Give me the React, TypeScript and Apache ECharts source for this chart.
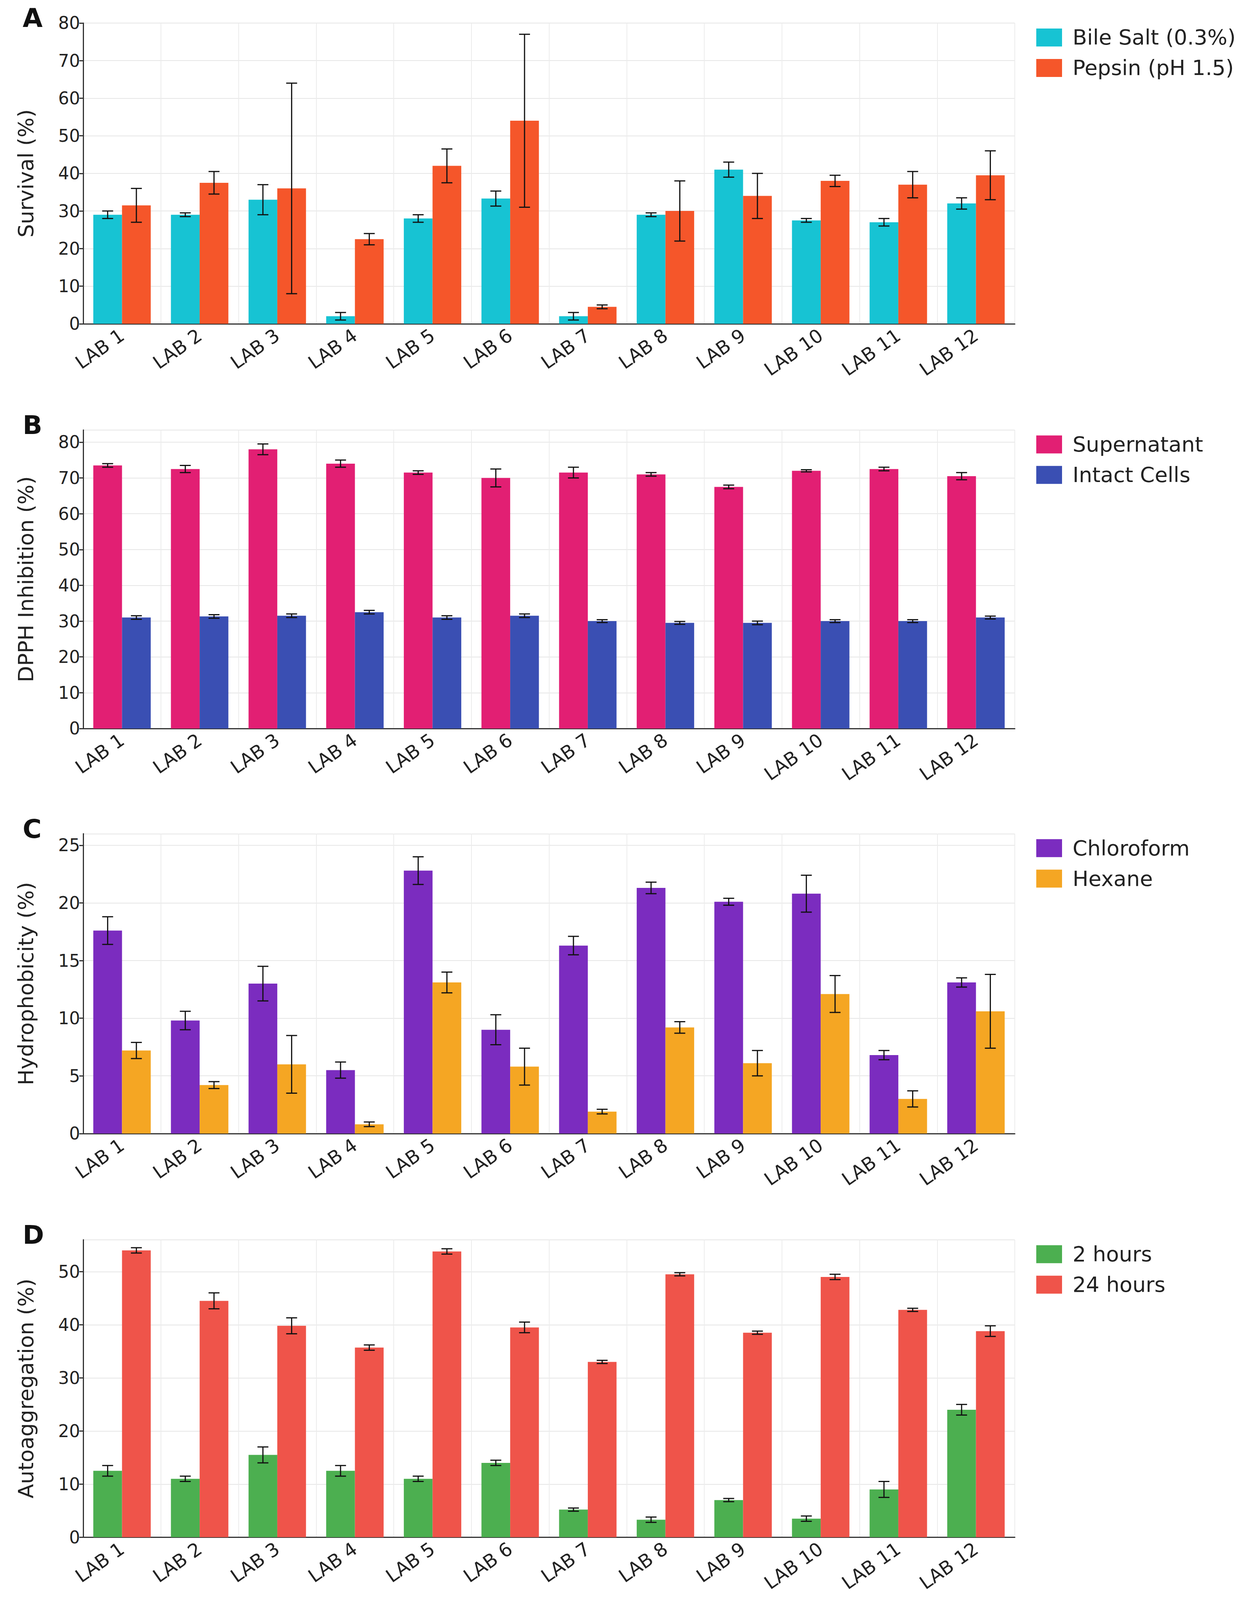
import React, { useEffect, useRef, useState } from 'react'
import * as echarts from 'echarts'

const categories = ['LAB 1', 'LAB 2', 'LAB 3', 'LAB 4', 'LAB 5', 'LAB 6', 'LAB 7', 'LAB 8', 'LAB 9', 'LAB 10', 'LAB 11', 'LAB 12']

const bileSalt = [29, 29, 33, 2, 28, 33.3, 2, 29, 41, 27.5, 27, 32]
const bileSaltErr = [1, 0.5, 4, 1, 1, 2, 1, 0.5, 2, 0.5, 1, 1.5]
const pepsin = [31.5, 37.5, 36, 22.5, 42, 54, 4.5, 30, 34, 38, 37, 39.5]
const pepsinErr = [4.5, 3, 28, 1.5, 4.5, 23, 0.5, 8, 6, 1.5, 3.5, 6.5]

const supernatant = [73.5, 72.5, 78, 74, 71.5, 70, 71.5, 71, 67.5, 72, 72.5, 70.5]
const supernatantErr = [0.5, 1, 1.5, 1, 0.5, 2.5, 1.5, 0.5, 0.5, 0.3, 0.5, 1]
const intactCells = [31, 31.3, 31.5, 32.5, 31, 31.5, 30, 29.5, 29.5, 30, 30, 31]
const intactCellsErr = [0.5, 0.5, 0.5, 0.5, 0.5, 0.5, 0.4, 0.4, 0.5, 0.4, 0.4, 0.4]

const chloroform = [17.6, 9.8, 13, 5.5, 22.8, 9, 16.3, 21.3, 20.1, 20.8, 6.8, 13.1]
const chloroformErr = [1.2, 0.8, 1.5, 0.7, 1.2, 1.3, 0.8, 0.5, 0.3, 1.6, 0.4, 0.4]
const hexane = [7.2, 4.2, 6, 0.8, 13.1, 5.8, 1.9, 9.2, 6.1, 12.1, 3, 10.6]
const hexaneErr = [0.7, 0.3, 2.5, 0.2, 0.9, 1.6, 0.2, 0.5, 1.1, 1.6, 0.7, 3.2]

const hours2 = [12.5, 11, 15.5, 12.5, 11, 14, 5.2, 3.3, 7, 3.5, 9, 24]
const hours2Err = [1, 0.5, 1.5, 1, 0.5, 0.5, 0.3, 0.5, 0.3, 0.5, 1.5, 1]
const hours24 = [54, 44.5, 39.8, 35.7, 53.8, 39.5, 33, 49.5, 38.5, 49, 42.8, 38.8]
const hours24Err = [0.5, 1.5, 1.5, 0.5, 0.5, 1, 0.3, 0.3, 0.3, 0.5, 0.3, 1]

const panels = [
  { letter: 'A', yName: 'Survival (%)', max: 80, interval: 10, top: 61, height: 923,
    s: [{ name: 'Bile Salt (0.3%)', data: bileSalt, err: bileSaltErr, color: '#17c3d3' },
        { name: 'Pepsin (pH 1.5)', data: pepsin, err: pepsinErr, color: '#f5562a' }] },
  { letter: 'B', yName: 'DPPH Inhibition (%)', max: 83.4, interval: 10, top: 1310, height: 916,
    s: [{ name: 'Supernatant', data: supernatant, err: supernatantErr, color: '#e21f73' },
        { name: 'Intact Cells', data: intactCells, err: intactCellsErr, color: '#3a4fb3' }] },
  { letter: 'C', yName: 'Hydrophobicity (%)', max: 26, interval: 5, top: 2549, height: 920,
    s: [{ name: 'Chloroform', data: chloroform, err: chloroformErr, color: '#7b2cbf' },
        { name: 'Hexane', data: hexane, err: hexaneErr, color: '#f5a623' }] },
  { letter: 'D', yName: 'Autoaggregation (%)', max: 56, interval: 10, top: 3795, height: 913,
    s: [{ name: '2 hours', data: hours2, err: hours2Err, color: '#4caf50' },
        { name: '24 hours', data: hours24, err: hours24Err, color: '#ef544a' }] },
]

const FONT = 'DejaVu Sans'
const GAP = 0.26
const FULL_H = 4891

export default function App() {
  const ref = useRef<HTMLDivElement>(null)
  // fit the page height into the viewport so nothing is cut off
  const [H] = useState(() => Math.min(FULL_H, Math.max(1000, window.innerHeight - 16)))

  useEffect(() => {
    if (!ref.current) return
    const chart = echarts.init(ref.current, null, { renderer: 'svg' })
    const k = H / FULL_H

    const grid: any[] = []
    const xAxis: any[] = []
    const yAxis: any[] = []
    const series: any[] = []
    const legend: any[] = []
    const graphic: any[] = []

    panels.forEach((p, gi) => {
      const top = p.top * k
      grid.push({ left: 205, width: 2385, top, height: p.height * k })
      xAxis.push({
        type: 'category', gridIndex: gi, data: categories,
        axisLine: { lineStyle: { color: '#333', width: 3 } },
        axisTick: { show: false },
        splitLine: { show: true, lineStyle: { color: '#ececec', width: 2 } },
        axisLabel: { rotate: 35, fontFamily: FONT, fontSize: 48, color: '#222', margin: 24, interval: 0 },
      })
      yAxis.push({
        type: 'value', gridIndex: gi, min: 0, max: p.max, interval: p.interval,
        name: p.yName, nameLocation: 'middle', nameGap: 120,
        nameTextStyle: { fontFamily: FONT, fontSize: 54, color: '#222' },
        axisLine: { show: true, lineStyle: { color: '#333', width: 3 } },
        axisTick: { show: true, length: 10, lineStyle: { color: '#333', width: 3 } },
        splitLine: { lineStyle: { color: '#e6e6e6', width: 2 } },
        axisLabel: { fontFamily: FONT, fontSize: 44, color: '#222', showMaxLabel: p.max % p.interval === 0 },
      })
      legend.push({
        data: p.s.map(s => s.name), orient: 'vertical', left: 2640, top: top + 5,
        itemWidth: 66, itemHeight: 46, itemGap: 24, icon: 'rect',
        textStyle: { fontFamily: FONT, fontSize: 54, color: '#222', padding: [0, 0, 0, 22] },
      })
      graphic.push({
        type: 'text', left: 50, top: top - 45,
        style: { text: p.letter, font: `bold 66px "${FONT}"`, fill: '#111' },
      })
      p.s.forEach(s => {
        series.push({
          name: s.name, type: 'bar', xAxisIndex: gi, yAxisIndex: gi, data: s.data,
          barGap: '0%', barCategoryGap: `${GAP * 100}%`, itemStyle: { color: s.color },
        })
      })
      p.s.forEach((s, si) => {
        series.push({
          type: 'custom', xAxisIndex: gi, yAxisIndex: gi, z: 10,
          data: s.data.map((v, i) => [i, v, s.err[i]]),
          renderItem: (params: any, api: any) => {
            const i = api.value(0), v = api.value(1), e = api.value(2)
            const band = api.size([1, 0])[0]
            const bw = band * (1 - GAP) / 2
            const c = api.coord([i, v])
            const x = c[0] + (si === 0 ? -bw / 2 : bw / 2)
            const yt = api.coord([i, v + e])[1]
            const yb = api.coord([i, Math.max(0, v - e)])[1]
            const cap = 14
            const st = { stroke: '#111', lineWidth: 3 }
            return {
              type: 'group', children: [
                { type: 'line', shape: { x1: x, y1: yt, x2: x, y2: yb }, style: st },
                { type: 'line', shape: { x1: x - cap, y1: yt, x2: x + cap, y2: yt }, style: st },
                { type: 'line', shape: { x1: x - cap, y1: yb, x2: x + cap, y2: yb }, style: st },
              ],
            }
          },
        })
      })
    })

    chart.setOption({ animation: false, backgroundColor: '#fff', grid, xAxis, yAxis, series, legend, graphic })
    return () => chart.dispose()
  }, [H])

  return <div ref={ref} style={{ width: 3197, height: H }} />
}
